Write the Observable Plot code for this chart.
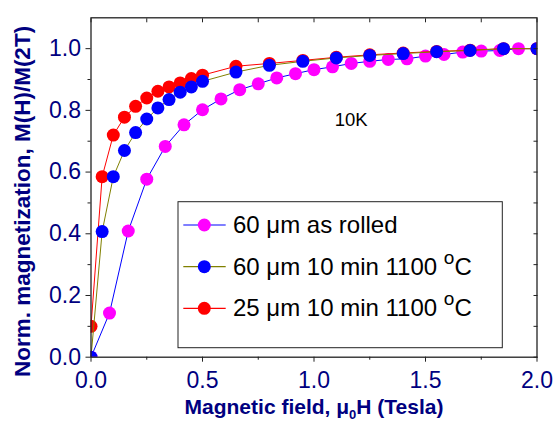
<!DOCTYPE html>
<html><head><meta charset="utf-8">
<script src="https://cdn.jsdelivr.net/npm/d3@7"></script>
<script src="https://cdn.jsdelivr.net/npm/@observablehq/plot@0.6"></script>
<style>body{margin:0;background:#fff}</style>
</head><body><div id="chart"></div>
<script>
// ---- data ----
const seriesNames = ["60 μm as rolled", "60 μm 10 min 1100 oC", "25 μm 10 min 1100 oC"];
const rolledX = [0, 0.083, 0.167, 0.25, 0.333, 0.417, 0.5, 0.583, 0.667, 0.75, 0.833, 0.917, 1.0, 1.083, 1.167, 1.25, 1.333, 1.417, 1.5, 1.583, 1.667, 1.75, 1.833, 1.917, 2.0];
const rolledY = [0, 0.143, 0.409, 0.577, 0.683, 0.753, 0.802, 0.837, 0.867, 0.886, 0.905, 0.919, 0.932, 0.941, 0.952, 0.959, 0.965, 0.967, 0.976, 0.981, 0.989, 0.992, 0.994, 1.0, 1.0];
const an60X = [0, 0.05, 0.1, 0.15, 0.2, 0.25, 0.3, 0.35, 0.4, 0.45, 0.5, 0.65, 0.8, 0.95, 1.1, 1.25, 1.4, 1.55, 1.7, 1.85, 2.0];
const an60Y = [0, 0.407, 0.585, 0.67, 0.728, 0.772, 0.808, 0.835, 0.859, 0.876, 0.894, 0.924, 0.946, 0.959, 0.970, 0.978, 0.984, 0.990, 0.994, 1.0, 1.0];
const an25X = [0, 0.05, 0.1, 0.15, 0.2, 0.25, 0.3, 0.35, 0.4, 0.45, 0.5, 0.65, 0.8, 0.95, 1.1, 1.25, 1.4, 1.55, 1.7, 1.85, 2.0];
const an25Y = [0.10, 0.585, 0.72, 0.778, 0.813, 0.84, 0.862, 0.876, 0.889, 0.903, 0.914, 0.943, 0.952, 0.962, 0.972, 0.980, 0.986, 0.991, 0.995, 1.0, 1.0];
const xTicks = [0, 0.5, 1.0, 1.5, 2.0];
const xMinorTicks = [0.25, 0.75, 1.25, 1.75];
const yTicks = [0, 0.2, 0.4, 0.6, 0.8, 1.0];
const yMinorTicks = [0.1, 0.3, 0.5, 0.7, 0.9];
const annotations = [{x: 1.167, y: 0.77, text: "10K"}];
const xTitle = "Magnetic field, μ0H (Tesla)";
const yTitle = "Norm. magnetization, M(H)/M(2T)";

// ---- styles ----
const navy = "#000080";
const dotColors = ["#ff00ff", "#0000ff", "#ff0000"];
const lineColors = ["#0000ff", "#808000", "#ff0000"];

const toRows = (xs, ys) => xs.map((x, i) => ({x, y: ys[i]}));
const series = [toRows(rolledX, rolledY), toRows(an60X, an60Y), toRows(an25X, an25Y)];
const drawOrder = [0, 2, 1];

const seriesMarks = drawOrder.flatMap(i => [
  Plot.line(series[i], {x: "x", y: "y", stroke: lineColors[i], strokeWidth: 1, clip: "frame"}),
  Plot.dot(series[i], {x: "x", y: "y", r: 6.5, fill: dotColors[i], clip: "frame"})
]);

const allX = [...xTicks, ...xMinorTicks].sort((a, b) => a - b);
const allY = [...yTicks, ...yMinorTicks].sort((a, b) => a - b);
const blank = () => "";

const plot = Plot.plot({
  width: 555, height: 428,
  marginLeft: 90.5, marginRight: 18.5, marginTop: 17.3, marginBottom: 71.3,
  x: {domain: [0, 2]},
  y: {domain: [0, 1.1]},
  style: {fontFamily: "'Liberation Sans', Arial, sans-serif", background: "white", overflow: "visible"},
  marks: [
    ...seriesMarks,
    Plot.frame({stroke: "#222", strokeWidth: 1.3}),
    Plot.axisX(xTicks, {anchor: "bottom", tickSize: 5, tickPadding: 9, tickFormat: d3.format(".1f"), fontSize: 23, fill: navy, stroke: "#222", label: null}),
    Plot.axisX(xMinorTicks, {anchor: "bottom", tickSize: 3, tickFormat: blank, stroke: "#222", label: null}),
    Plot.axisX(allX, {anchor: "top", tickSize: -4, tickFormat: blank, stroke: "#222", label: null}),
    Plot.axisY(yTicks, {anchor: "left", tickSize: 5, tickPadding: 5, tickFormat: d3.format(".1f"), fontSize: 23, fill: navy, stroke: "#222", label: null}),
    Plot.axisY(yMinorTicks, {anchor: "left", tickSize: 3, tickFormat: blank, stroke: "#222", label: null}),
    Plot.axisY(allY, {anchor: "right", tickSize: -4, tickFormat: blank, stroke: "#222", label: null}),
    Plot.text([yTitle], {frameAnchor: "left", dx: -68.5, dy: 14, rotate: -90, textAnchor: "middle", lineAnchor: "middle", fontSize: 22.5, fontWeight: "bold", fill: navy}),
    Plot.text([xTitle], {frameAnchor: "bottom", dy: 42, textAnchor: "middle", lineAnchor: "top", fontSize: 21, fontWeight: "bold", fill: navy}),
    Plot.text(annotations, {x: "x", y: "y", text: "text", fontSize: 18.5, fill: "black"})
  ]
});
document.getElementById("chart").appendChild(plot);

const svg = d3.select(plot);
// subscript in x title
svg.selectAll("text").filter(function() { return this.textContent === xTitle; }).each(function() {
  const t = d3.select(this);
  t.text(null);
  t.append("tspan").text("Magnetic field, μ");
  t.append("tspan").attr("dy", 5).attr("font-size", 13).text("0");
  t.append("tspan").attr("dy", -5).text("H (Tesla)");
});

// legend
const lg = svg.append("g").attr("font-family", "'Liberation Sans', Arial, sans-serif").attr("text-anchor", "start");
lg.append("rect").attr("x", 178).attr("y", 201.7).attr("width", 324.3).attr("height", 146)
  .attr("fill", "white").attr("stroke", "#222").attr("stroke-width", 1);
const rowY = [225, 266.7, 308.3];
seriesNames.forEach((name, i) => {
  const y = rowY[i];
  lg.append("path").attr("d", `M183.3,${y}H225.7`).attr("fill", "none")
    .attr("stroke", lineColors[i]).attr("stroke-width", 1.2);
  lg.append("circle").attr("cx", 204.3).attr("cy", y).attr("r", 6.5).attr("fill", dotColors[i]);
  const t = lg.append("text").attr("x", 233).attr("y", y).attr("dy", "0.33em").attr("text-anchor", "start")
    .attr("font-size", 24).attr("fill", "black");
  const m = name.match(/^(.*) o(C)$/);
  if (m) {
    t.append("tspan").text(m[1] + " ");
    t.append("tspan").attr("dy", -11).attr("font-size", 19).text("o");
    t.append("tspan").attr("dy", 11).text(m[2]);
  } else {
    t.text(name);
  }
});
</script>
</body></html>
